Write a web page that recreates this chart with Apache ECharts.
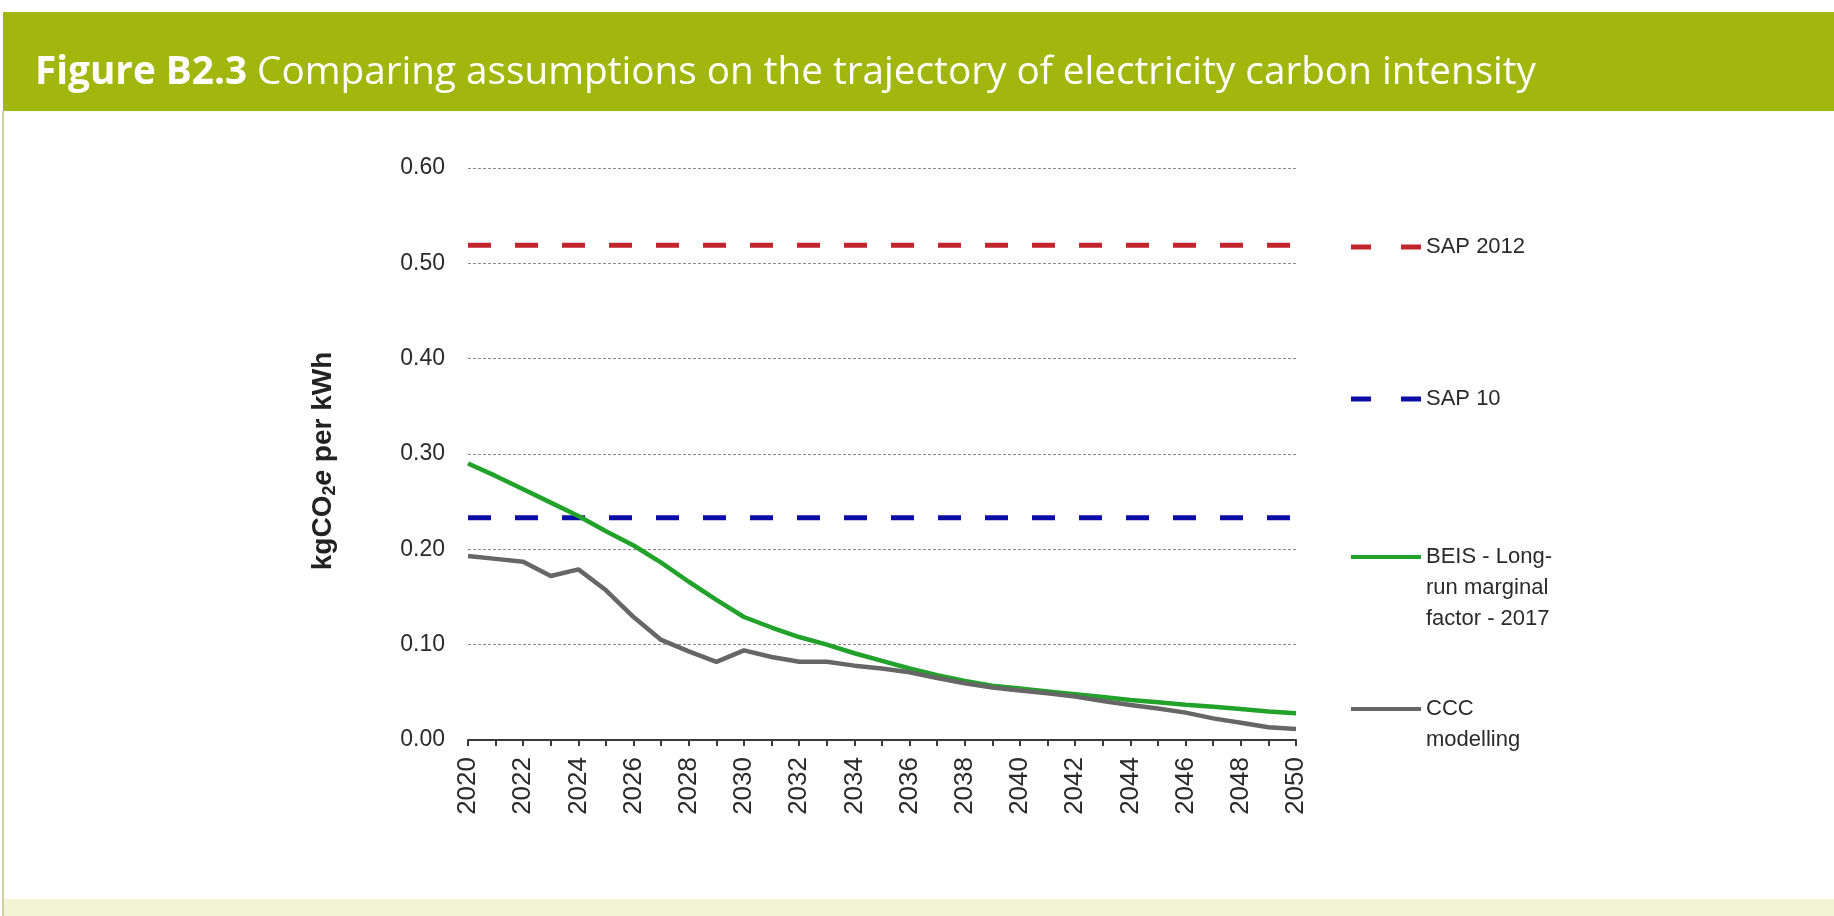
<!DOCTYPE html>
<html>
<head>
<meta charset="utf-8">
<title>Electricity carbon intensity</title>
<script src="https://cdn.jsdelivr.net/npm/echarts@6/dist/echarts.min.js"></script>
<style>
  html, body { margin: 0; padding: 0; background: #ffffff; }
  #chart { width: 1834px; height: 916px; }
</style>
</head>
<body>
<div id="chart"></div>
<script>
// Years on the horizontal axis
const years = ['2020','2021','2022','2023','2024','2025','2026','2027','2028','2029','2030',
               '2031','2032','2033','2034','2035','2036','2037','2038','2039','2040',
               '2041','2042','2043','2044','2045','2046','2047','2048','2049','2050'];

// Flat emission factors (kgCO2e per kWh)
const sap2012 = 0.519;
const sap10 = 0.233;

// BEIS long-run marginal factor, 2017
const beis = [0.290,0.277,0.263,0.249,0.235,0.219,0.204,0.186,0.166,0.147,0.129,
              0.118,0.108,0.100,0.091,0.083,0.075,0.068,0.062,0.057,0.054,
              0.051,0.048,0.045,0.042,0.0395,0.037,0.035,0.0325,0.030,0.028];

// CCC modelling
const ccc = [0.193,0.190,0.187,0.172,0.179,0.157,0.129,0.105,0.093,0.082,0.094,
             0.087,0.082,0.082,0.078,0.075,0.071,0.065,0.0595,0.055,0.052,
             0.049,0.0455,0.041,0.0367,0.033,0.0287,0.0227,0.018,0.0133,0.0115];

const seriesNames = ['SAP 2012', 'SAP 10', 'BEIS - Long-\nrun marginal\nfactor - 2017', 'CCC\nmodelling'];
const yTicks = ['0.00','0.10','0.20','0.30','0.40','0.50','0.60'];

const titleBold = 'Figure B2.3';
const titleRest = ' Comparing assumptions on the trajectory of electricity carbon intensity';

const colors = { red: '#c1242b', blue: '#0c0ca6', green: '#22a22a', grey: '#666666' };

// Fit the heading text into its banner width
const titleFont = '"Open Sans", "Noto Sans", sans-serif';
const titleSize = 39;
const mctx = document.createElement('canvas').getContext('2d');
mctx.font = 'bold ' + titleSize + 'px ' + titleFont;
const wBold = mctx.measureText(titleBold).width;
mctx.font = titleSize + 'px ' + titleFont;
const wRest = mctx.measureText(titleRest).width;
const titleScale = 1501 / (wBold + wRest);

const chart = echarts.init(document.getElementById('chart'), null, { renderer: 'canvas' });

const legendX = 1351, legendW = 70, legendTextX = 1426;
const legendFont = { fontFamily: '"Liberation Sans", Arial, sans-serif', fontSize: 22, fill: '#2a2a2a', lineHeight: 31 };

function legendEntry(y, color, dashed, label) {
  return [
    {
      type: 'line', z: 10,
      shape: { x1: legendX, y1: y, x2: legendX + legendW, y2: y },
      style: { stroke: color, lineWidth: dashed ? 5 : 4, lineDash: dashed ? [20, 30] : null }
    },
    {
      type: 'text', z: 10, x: legendTextX, y: y - 15.5,
      style: Object.assign({ text: label, align: 'left', verticalAlign: 'top' }, legendFont)
    }
  ];
}

const axisFont = '"Liberation Sans", Arial, sans-serif';

const option = {
  backgroundColor: '#ffffff',
  animation: false,
  grid: { left: 468, right: 538, top: 168, bottom: 176, containLabel: false },
  xAxis: {
    type: 'category',
    data: years,
    boundaryGap: false,
    axisLine: { show: true, lineStyle: { color: '#3a3a3a', width: 2 } },
    axisTick: { show: true, interval: 0, length: 6, inside: false, lineStyle: { color: '#3a3a3a', width: 2 } },
    axisLabel: {
      interval: 1, rotate: 90, margin: 17,
      fontFamily: axisFont, fontSize: 26, color: '#2a2a2a'
    },
    splitLine: { show: false }
  },
  yAxis: {
    type: 'value',
    min: 0, max: 0.6, interval: 0.1,
    axisLine: { show: false },
    axisTick: { show: false },
    axisLabel: {
      margin: 23,
      fontFamily: axisFont, fontSize: 23, color: '#2a2a2a',
      formatter: function (v) { return yTicks[Math.round(v * 10)]; }
    },
    splitLine: { show: true, lineStyle: { color: '#8c8c8c', width: 1, type: [3, 2] } },
    name: '{b|kgCO}{s|2}{i|e}{b| per kWh}',
    nameLocation: 'middle',
    nameRotate: 90,
    nameGap: 129,
    nameTextStyle: {
      padding: [0, 14, 0, 0],
      rich: {
        b: { fontFamily: axisFont, fontSize: 28, fontWeight: 'bold', color: '#222', lineHeight: 32 },
        i: { fontFamily: axisFont, fontSize: 28, fontWeight: 'bold', fontStyle: 'italic', color: '#222', lineHeight: 32 },
        s: { fontFamily: axisFont, fontSize: 18, fontWeight: 'bold', color: '#222', lineHeight: 18, verticalAlign: 'bottom' }
      }
    }
  },
  series: [
    {
      name: seriesNames[0], type: 'line', symbol: 'none',
      data: [[years[0], sap2012], [years[years.length - 1], sap2012]],
      lineStyle: { color: colors.red, width: 5, type: [23, 24], cap: 'butt' }
    },
    {
      name: seriesNames[1], type: 'line', symbol: 'none',
      data: [[years[0], sap10], [years[years.length - 1], sap10]],
      lineStyle: { color: colors.blue, width: 5, type: [23, 24], cap: 'butt' }
    },
    {
      name: seriesNames[2], type: 'line', symbol: 'none',
      data: beis,
      lineStyle: { color: colors.green, width: 4.5 }
    },
    {
      name: seriesNames[3], type: 'line', symbol: 'none',
      data: ccc,
      lineStyle: { color: colors.grey, width: 4.5 }
    }
  ],
  graphic: [
    // heading banner
    { type: 'rect', z: 0, shape: { x: 3, y: 12, width: 1831, height: 99 }, style: { fill: '#a2b70e' } },
    {
      type: 'group', x: 35, y: 73, scaleX: titleScale, scaleY: 1, z: 1,
      children: [
        { type: 'text', x: 0, y: 0, style: { text: titleBold, fill: '#ffffff', font: 'bold ' + titleSize + 'px ' + titleFont, verticalAlign: 'middle', align: 'left' } },
        { type: 'text', x: wBold, y: 0, style: { text: titleRest, fill: '#ffffff', font: titleSize + 'px ' + titleFont, verticalAlign: 'middle', align: 'left' } }
      ]
    },
    // panel frame and footer strip
    { type: 'rect', z: 0, shape: { x: 2, y: 111, width: 2, height: 805 }, style: { fill: '#cfcfa4' } },
    { type: 'rect', z: 0, shape: { x: 4, y: 899, width: 1830, height: 17 }, style: { fill: '#f3f4d6' } }
  ]
    .concat(legendEntry(247, colors.red, true, seriesNames[0]))
    .concat(legendEntry(399, colors.blue, true, seriesNames[1]))
    .concat(legendEntry(557, colors.green, false, seriesNames[2]))
    .concat(legendEntry(709, colors.grey, false, seriesNames[3]))
};

chart.setOption(option);
</script>
</body>
</html>
